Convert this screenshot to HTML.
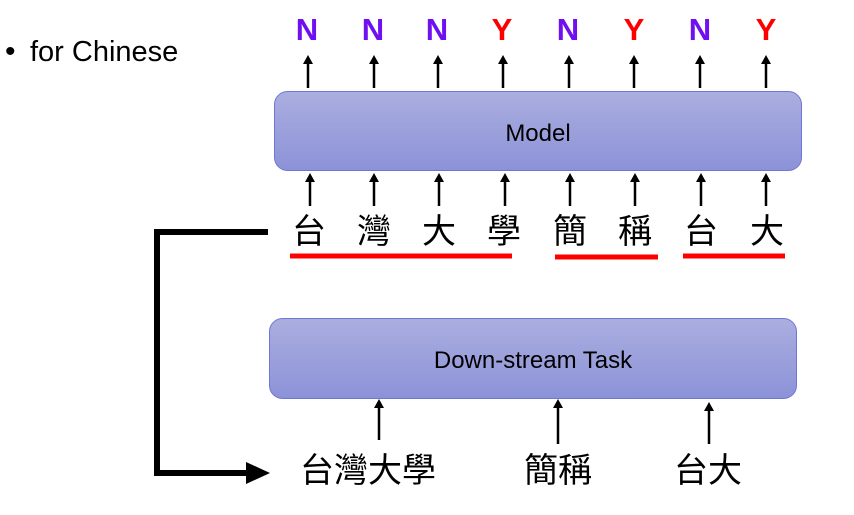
<!DOCTYPE html>
<html><head><meta charset="utf-8"><style>
html,body{margin:0;padding:0;background:#fff;}
svg{display:block;}
</style></head><body>
<svg width="854" height="515" viewBox="0 0 854 515" xmlns="http://www.w3.org/2000/svg">
<defs>
<linearGradient id="g" x1="0" y1="0" x2="0" y2="1">
<stop offset="0" stop-color="#abaedf"/><stop offset="1" stop-color="#8c92d8"/>
</linearGradient>
<marker id="a" markerWidth="8" markerHeight="8" refX="4" refY="4" orient="auto" markerUnits="userSpaceOnUse">
<path d="M0,8 L4,0 L8,8 Z" fill="#000"/></marker>
</defs>
<text x="5" y="61" font-family="Liberation Sans, sans-serif" font-size="30" fill="#000">•</text>
<text x="30" y="61" font-family="Liberation Sans, sans-serif" font-size="29" fill="#000">for Chinese</text>

<g font-family="Liberation Sans, sans-serif" font-size="31" font-weight="bold" text-anchor="middle">
<text x="307" y="40" fill="#7010f0">N</text>
<text x="373" y="40" fill="#7010f0">N</text>
<text x="437" y="40" fill="#7010f0">N</text>
<text x="502" y="40" fill="#ff0000">Y</text>
<text x="568" y="40" fill="#7010f0">N</text>
<text x="634" y="40" fill="#ff0000">Y</text>
<text x="700" y="40" fill="#7010f0">N</text>
<text x="766" y="40" fill="#ff0000">Y</text>
</g>
<g stroke="#000" stroke-width="2.5">
<line x1="308" y1="88" x2="308" y2="60"/><line x1="374" y1="88" x2="374" y2="60"/>
<line x1="438" y1="88" x2="438" y2="60"/><line x1="503" y1="88" x2="503" y2="60"/>
<line x1="569" y1="88" x2="569" y2="60"/><line x1="634" y1="88" x2="634" y2="60"/>
<line x1="700" y1="88" x2="700" y2="60"/><line x1="766" y1="88" x2="766" y2="60"/>
<line x1="310" y1="206" x2="310" y2="178"/><line x1="374" y1="206" x2="374" y2="178"/>
<line x1="439" y1="206" x2="439" y2="178"/><line x1="505" y1="206" x2="505" y2="178"/>
<line x1="570" y1="206" x2="570" y2="178"/><line x1="635" y1="206" x2="635" y2="178"/>
<line x1="701" y1="206" x2="701" y2="178"/><line x1="766" y1="206" x2="766" y2="178"/>
<line x1="379" y1="440" x2="379" y2="404"/><line x1="558" y1="444" x2="558" y2="404"/>
<line x1="709" y1="444" x2="709" y2="407"/>
</g>
<g fill="#000">
<path d="M303,64 L308,55 L313,64Z"/><path d="M369,64 L374,55 L379,64Z"/><path d="M433,64 L438,55 L443,64Z"/><path d="M498,64 L503,55 L508,64Z"/>
<path d="M564,64 L569,55 L574,64Z"/><path d="M629,64 L634,55 L639,64Z"/><path d="M695,64 L700,55 L705,64Z"/><path d="M761,64 L766,55 L771,64Z"/>
<path d="M305,182 L310,173 L315,182Z"/><path d="M369,182 L374,173 L379,182Z"/><path d="M434,182 L439,173 L444,182Z"/><path d="M500,182 L505,173 L510,182Z"/>
<path d="M565,182 L570,173 L575,182Z"/><path d="M630,182 L635,173 L640,182Z"/><path d="M696,182 L701,173 L706,182Z"/><path d="M761,182 L766,173 L771,182Z"/>
<path d="M374,408 L379,399 L384,408Z"/><path d="M553,408 L558,399 L563,408Z"/><path d="M704,411 L709,402 L714,411Z"/>
</g>

<rect x="274.5" y="91.5" width="527" height="79" rx="13" fill="url(#g)" stroke="#6f77d6" stroke-width="1"/>
<text x="538" y="141" text-anchor="middle" font-family="Liberation Sans, sans-serif" font-size="24" fill="#000">Model</text>
<rect x="269.5" y="318.5" width="527" height="80" rx="13" fill="url(#g)" stroke="#6f77d6" stroke-width="1"/>
<text x="533" y="368" text-anchor="middle" font-family="Liberation Sans, sans-serif" font-size="24" fill="#000">Down-stream Task</text>

<g font-family="Liberation Sans, 'Noto Sans CJK TC', sans-serif" font-size="34" text-anchor="middle" fill="#000">
<text x="309" y="243">台</text><text x="374" y="243">灣</text><text x="439" y="243">大</text><text x="504" y="243">學</text>
<text x="570" y="243">簡</text><text x="635" y="243">稱</text><text x="701" y="243">台</text><text x="767" y="243">大</text>
</g>
<g stroke="#ff0000" stroke-width="5">
<line x1="290" y1="256" x2="512" y2="256"/><line x1="555" y1="257" x2="658" y2="257"/><line x1="683" y1="256" x2="785" y2="256"/>
</g>
<g font-family="Liberation Sans, 'Noto Sans CJK TC', sans-serif" font-size="34" fill="#000">
<text x="300" y="482">台灣大學</text><text x="524" y="482">簡稱</text><text x="674" y="482">台大</text>
</g>
<path d="M268,232 L157,232 L157,473 L248,473" fill="none" stroke="#000" stroke-width="6"/>
<path d="M246,462 L270,473 L246,484Z" fill="#000"/>
</svg>
</body></html>
